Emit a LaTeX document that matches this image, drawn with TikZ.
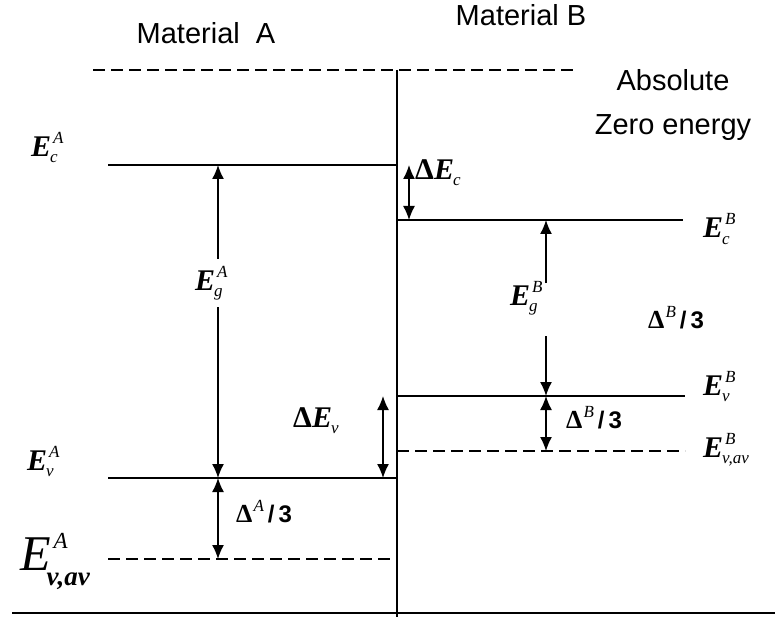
\RequirePackage{fix-cm}
\documentclass[tikz,border=0pt]{standalone}
\usepackage{fontspec}
\setmainfont{Liberation Sans}
\newfontfamily\tms{Liberation Serif}
\usetikzlibrary{arrows.meta}
% E^{sup}_{sub} in Times
\newcommand{\scr}[1]{\hbox{\tms\itshape\fontsize{17}{17}\selectfont #1}}
\newcommand{\elab}[3]{{\tms\bfseries\itshape #1}\rlap{\kern2pt\raisebox{13pt}{\scr{#2}}}\kern-1pt\raisebox{-6pt}{\scr{#3}}}
\newcommand{\dlab}[1]{{\tms\bfseries\fontsize{26}{26}\selectfont Δ}\kern1pt\raisebox{11pt}{\scr{#1}}\,\textbf{/\,3}}

\begin{document}
\begin{tikzpicture}[
  x=1pt, y=-1pt,
  level/.style={line width=1.4pt},
  dlevel/.style={level, dash pattern=on 12pt off 6pt},
  dimarr/.style={line width=1.4pt, {Latex[length=14pt,width=12pt]}-{Latex[length=14pt,width=12pt]}},
  onearr/.style={line width=1.4pt, -{Latex[length=14pt,width=12pt]}},
  hd/.style={font=\fontsize{29}{44}\selectfont, align=center},
  sym/.style={font=\fontsize{30}{34}\selectfont, inner sep=1pt, anchor=base west},
  dl/.style={font=\fontsize{24}{30}\selectfont, inner sep=1pt, anchor=base west}
]
\useasboundingbox (0,0) rectangle (775,617);

% ---- niveaux --------------------------------------------------------------
\coordinate (top0) at (93,70);
\coordinate (top1) at (573,70);
\coordinate (bot0) at (12,613);
\coordinate (bot1) at (775,613);
\coordinate (wallT) at (397,70);
\coordinate (wallB) at (397,617);
\draw[dlevel] (top0) -- (top1);
\draw[level] (wallT) -- (wallB);
\draw[level] (bot0) -- (bot1);

% material A
\coordinate (ecA) at (108,165);   \coordinate (ecAr) at (397,165);
\coordinate (evA) at (108,478);   \coordinate (evAr) at (397,478);
\coordinate (eavA) at (108,559);  \coordinate (eavAr) at (397,559);
\draw[level] (ecA) -- (ecAr);
\draw[level] (evA) -- (evAr);
\draw[dlevel] (eavA) -- (eavAr);

% material B
\coordinate (ecB) at (397,220);   \coordinate (ecBr) at (683,220);
\coordinate (evB) at (397,396);   \coordinate (evBr) at (685,396);
\coordinate (eavB) at (397,451);  \coordinate (eavBr) at (685,451);
\draw[level] (ecB) -- (ecBr);
\draw[level] (evB) -- (evBr);
\draw[dlevel] (eavB) -- (eavBr);

% ---- fleches ---------------------------------------------------------------
\coordinate (gA1) at (218,165);  \coordinate (gA2) at (218,478);
\coordinate (dA) at (218,559);
\draw[dimarr] (gA1) -- (gA2);
\draw[dimarr] (gA2) -- (dA);
\node[sym, fill=white, inner ysep=7pt] (lgA) at (194,290) {\elab{E}{A}{g}};

\coordinate (dc1) at (409,165);  \coordinate (dc2) at (409,220);
\draw[dimarr] (dc1) -- (dc2);

\coordinate (dv1) at (383,396);  \coordinate (dv2) at (383,478);
\draw[dimarr] (dv1) -- (dv2);

\coordinate (gB0) at (546,283);  \coordinate (gB1) at (546,220);
\coordinate (gB2) at (546,336);  \coordinate (gB3) at (546,396);
\coordinate (dB) at (546,451);
\draw[onearr] (gB0) -- (gB1);
\draw[onearr] (gB2) -- (gB3);
\draw[dimarr] (gB3) -- (dB);

% ---- textes ----------------------------------------------------------------
\node[hd] (matA) at (206,33) {Material\ \ A};
\node[hd] (matB) at (521,15) {Material B};
\node[hd] (zero) at (673,105) {Absolute\\Zero energy};

\node[sym] (lecA) at (30,157) {\elab{E}{A}{c}};
\node[sym] (levA) at (26,470) {\elab{E}{A}{v}};
\node[sym] (leavA) at (19,570)
  {{\tms\itshape\fontsize{50}{50}\selectfont E}\rlap{\kern3pt\raisebox{22pt}{\hbox{\tms\itshape\fontsize{23}{23}\selectfont A}}}\kern-4pt\raisebox{-15pt}{\hbox{\tms\bfseries\itshape\fontsize{27}{27}\selectfont v,av}}};
\node[sym] (lecB) at (702,238) {\elab{E}{B}{c}};
\node[sym] (levB) at (702,395) {\elab{E}{B}{v}};
\node[sym] (leavB) at (702,457) {\elab{E}{B}{v,av}};
\node[sym] (lgB) at (509,305) {\elab{E}{B}{g}};

\node[sym] (ldc) at (414,180) {{\tms\bfseries Δ}\elab{E}{}{c}};
\node[sym] (ldv) at (292,427) {{\tms\bfseries Δ}\elab{E}{}{v}};
\node[dl] (ldA) at (235,522) {\dlab{A}};
\node[dl] (ldB1) at (647,328) {\dlab{B}};
\node[dl] (ldB2) at (565,428) {\dlab{B}};
\end{tikzpicture}
\end{document}
